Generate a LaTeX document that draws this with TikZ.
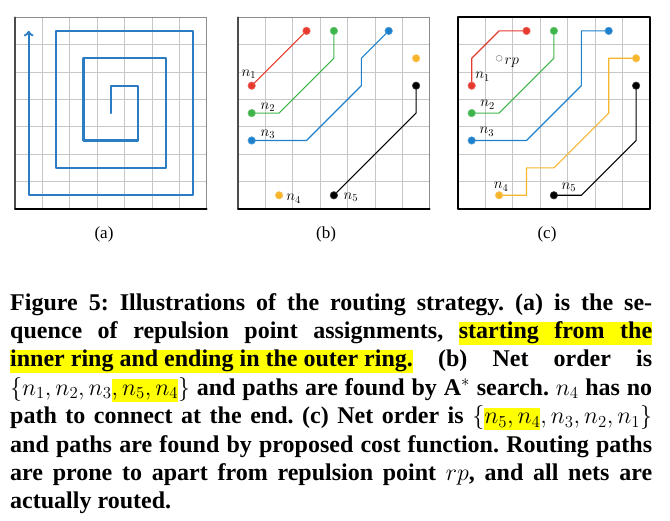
\RequirePackage{fix-cm}
\documentclass[tikz,border=0pt]{standalone}
\usepackage{fontspec}
\setmainfont{Liberation Serif}
\usetikzlibrary{arrows}
\usepackage{xcolor}

\definecolor{netred}{HTML}{E63A2E}
\definecolor{netgreen}{HTML}{3DB54A}
\definecolor{netblue}{HTML}{1D80CC}
\definecolor{netyellow}{HTML}{F7B52C}
\definecolor{spiralblue}{HTML}{2A7CC3}
\definecolor{hlyellow}{HTML}{FFFF00}

% highlighted word and highlighted (stretchable) space
\newcommand{\hlbox}[1]{{\setlength{\fboxsep}{0pt}\colorbox{hlyellow}{\rule[-6.5pt]{0pt}{22.5pt}#1}}}
\newcommand{\hlgap}{{\color{hlyellow}\leaders\hrule height 16pt depth 6.5pt
  \hskip\fontdimen2\font plus\fontdimen3\font minus\fontdimen4\font}}

\tikzset{
  gridline/.style={draw=black!22, line width=0.7pt},
  pin/.style={circle, inner sep=0pt, minimum size=7.5pt, fill=#1, draw=#1!75!white, line width=0.6pt},
  net/.style={draw=#1, line width=1.1pt},
  netlabel/.style={inner sep=0pt, font=\fontsize{15}{16}\selectfont},
  sublabel/.style={inner sep=0pt, font=\fontsize{17}{18}\selectfont},
  caption/.style={inner sep=0pt, text width=642pt, align=justify,
    font=\fontsize{24}{28.4}\selectfont\bfseries},
}

\begin{document}
\begin{tikzpicture}[line cap=round,line join=round,>=to,x=1pt,y=1pt]
\useasboundingbox (0,0) rectangle (670,521);

% (a) repulsion point order
\begin{scope}[shift={(15pt,312pt)},x=27.4pt,y=27.4pt]
\draw [gridline] (0,0) grid [step=1] (7,7);
\draw [black!45, line width=0.8pt] (0,7) -- (7,7) -- (7,0);
\draw [black!70, line width=1.2pt] (0,7) -- (0,0);
\draw [black, line width=1.4pt] (0,0) -- (7,0);
\draw [spiralblue, line width=2.3pt, ->] (3.5,3.5) -- (3.5,4.5) -- (4.5,4.5) -- (4.5,2.5)
  -- (2.5,2.5) -- (2.5,5.5) -- (5.5,5.5) -- (5.5,1.5) -- (1.5,1.5) -- (1.5,6.5)
  -- (6.5,6.5) -- (6.5,0.5) -- (0.5,0.5) -- (0.5,6.5);
\end{scope}
\node [sublabel] (suba) at (104,287) {(a)};

% (b) A* search
\begin{scope}[shift={(238pt,312pt)},x=27.4pt,y=27.4pt]
\draw [gridline] (0,0) grid [step=1] (7,7);
\draw [black!45, line width=0.8pt] (0,7) -- (7,7) -- (7,0);
\draw [black!70, line width=1.2pt] (0,7) -- (0,0);
\draw [black, line width=1.4pt] (0,0) -- (7,0);
\node [pin=netred] (bRs) at (2.5,6.5) {};
\node [pin=netred] (bRt) at (0.5,4.5) {};
\node [pin=netgreen] (bGs) at (3.5,6.5) {};
\node [pin=netgreen] (bGt) at (0.5,3.5) {};
\node [pin=netblue] (bBs) at (5.5,6.5) {};
\node [pin=netblue] (bBt) at (0.5,2.5) {};
\node [pin=netyellow] (bYs) at (6.5,5.5) {};
\node [pin=netyellow] (bYt) at (1.5,0.5) {};
\node [pin=black] (bKs) at (6.5,4.5) {};
\node [pin=black] (bKt) at (3.5,0.5) {};
\draw [net=netred] (bRs) -- (bRt);
\draw [net=netgreen] (bGs) -- (3.5,5.5) -- (1.5,3.5) -- (bGt);
\draw [net=netblue] (bBs) -- (4.5,5.5) -- (4.5,4.5) -- (2.5,2.5) -- (bBt);
\draw [net=black] (bKs) -- (6.5,3.5) -- (bKt);
\node [netlabel] (bL1) at (0.40,4.93) {$n_1$};
\node [netlabel] (bL2) at (1.09,3.72) {$n_2$};
\node [netlabel] (bL3) at (1.09,2.72) {$n_3$};
\node [netlabel] (bL4) at (2.03,0.37) {$n_4$};
\node [netlabel] (bL5) at (4.12,0.42) {$n_5$};
\end{scope}
\node [sublabel] (subb) at (326,287) {(b)};

% (c) proposed cost function
\begin{scope}[shift={(458pt,312pt)},x=27.4pt,y=27.4pt]
\draw [gridline] (0,0) grid [step=1] (7,7);
\draw [black, line width=1.5pt] (0,0) rectangle (7,7);
\node [circle, draw=black!55, line width=0.5pt, dash pattern=on 1pt off 0.7pt,
  inner sep=0pt, minimum size=6pt] (rp) at (1.5,5.5) {};
\node [netlabel] (rpL) at (1.96,5.34) {$rp$};
\node [pin=netred] (cRs) at (2.5,6.5) {};
\node [pin=netred] (cRt) at (0.5,4.5) {};
\node [pin=netgreen] (cGs) at (3.5,6.5) {};
\node [pin=netgreen] (cGt) at (0.5,3.5) {};
\node [pin=netblue] (cBs) at (5.5,6.5) {};
\node [pin=netblue] (cBt) at (0.5,2.5) {};
\node [pin=netyellow] (cYs) at (6.5,5.5) {};
\node [pin=netyellow] (cYt) at (1.5,0.5) {};
\node [pin=black] (cKs) at (6.5,4.5) {};
\node [pin=black] (cKt) at (3.5,0.5) {};
\draw [net=netred] (cRs) -- (1.5,6.5) -- (0.5,5.5) -- (cRt);
\draw [net=netgreen] (cGs) -- (3.5,5.5) -- (1.5,3.5) -- (cGt);
\draw [net=netblue] (cBs) -- (4.5,6.5) -- (4.5,4.5) -- (2.5,2.5) -- (cBt);
\draw [net=netyellow] (cYs) -- (5.5,5.5) -- (5.5,3.5) -- (3.5,1.5) -- (2.5,1.5)
  -- (2.5,0.5) -- (cYt);
\draw [net=black] (cKs) -- (6.5,2.5) -- (4.5,0.5) -- (cKt);
\node [netlabel] (cL1) at (0.90,4.83) {$n_1$};
\node [netlabel] (cL2) at (1.08,3.80) {$n_2$};
\node [netlabel] (cL3) at (1.05,2.82) {$n_3$};
\node [netlabel] (cL4) at (1.57,0.81) {$n_4$};
\node [netlabel] (cL5) at (4.05,0.78) {$n_5$};
\end{scope}
\node [sublabel] (subc) at (547,287) {(c)};

% caption
\node [caption, anchor=north west] (cap) at (10,228) {\frenchspacing\tolerance=10000\hyphenpenalty=10000
Figure 5: Illustrations of the routing strategy. (a) is the se-\linebreak
quence of repulsion point assignments, \hlbox{starting}\hlgap\hlbox{from}\hlgap\hlbox{the}\linebreak
\hlbox{inner ring and ending in the outer ring.} (b) Net order is\linebreak
$\{n_1, n_2, n_3$\hlbox{$, n_5, n_4$}$\}$ and paths are found by A$^*$ search. $n_4$ has no\linebreak
path to connect at the end. (c) Net order is $\{$\hlbox{$n_5, n_4$}$, n_3, n_2, n_1\}$\linebreak
and paths are found by proposed cost function. Routing paths\linebreak
are prone to apart from repulsion point $rp$, and all nets are\linebreak
actually routed.};
\end{tikzpicture}
\end{document}
